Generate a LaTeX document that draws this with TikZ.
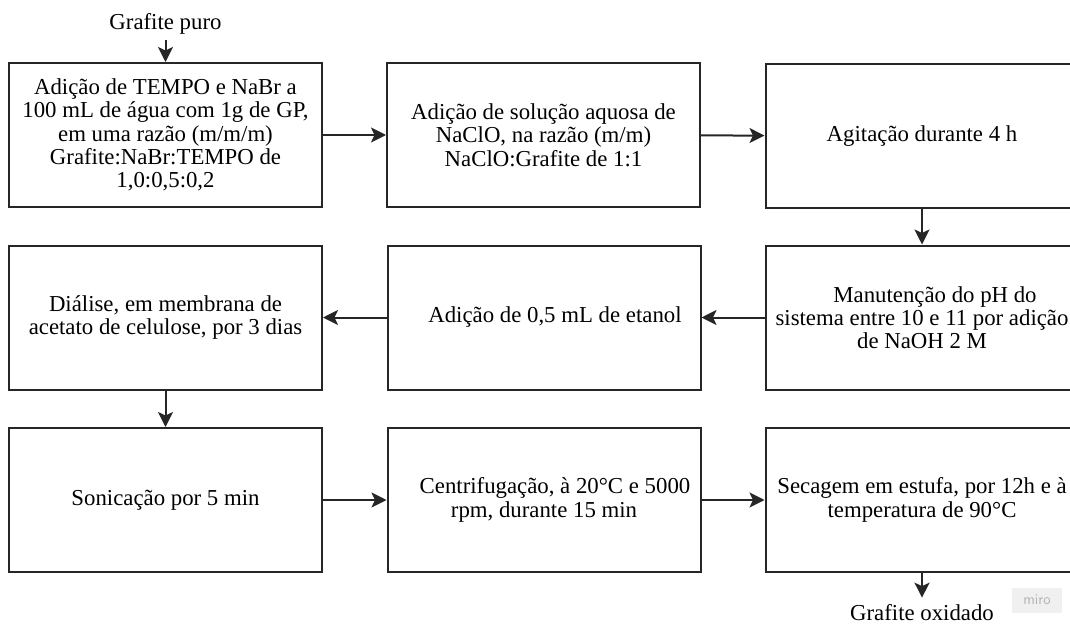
\documentclass[tikz,border=0pt]{standalone}
\usepackage{fontspec}
\setmainfont{Liberation Serif}
\usetikzlibrary{arrows.meta}

\begin{document}
\begin{tikzpicture}[
  x=1pt, y=-1pt, font=\fontsize{22.8}{23.3}\selectfont,
  box/.style={draw=black!85,line width=2pt,minimum width=313pt,minimum height=144pt,
              align=center,inner sep=2pt,text=black},
  flow/.style={-{Stealth[length=15pt,width=15pt,inset=3.5pt]},line width=2pt,black!85},
  ends/.style={inner sep=0pt,text=black},
  badge/.style={fill=black!6,text=black!30,font=\sffamily\fontsize{15}{15}\selectfont,
                minimum width=50pt,minimum height=25pt,inner sep=0pt}]

\useasboundingbox (0,0) rectangle (1070,626);

\node[ends] (puro) at (165.5,23.5) {Grafite puro};

\node[box] (s1) at (165.5,135) {Adição de TEMPO e NaBr a\\100 mL de água com 1g de GP,\\em uma razão (m/m/m)\\Grafite:NaBr:TEMPO de\\1,0:0,5:0,2};
\node[box] (s2) at (543.5,135) {Adição de solução aquosa de\\NaClO, na razão (m/m)\\NaClO:Grafite de 1:1};
\node[box] (s3) at (922,136) {Agitação durante 4 h};

\node[box] (s4) at (922,317.5) {\hspace*{26pt}Manutenção do pH do\\sistema entre 10 e 11 por adição\\de NaOH 2 M};
\node[box] (s5) at (544,317.5) {\hspace*{22pt}Adição de 0,5 mL de etanol};
\node[box] (s6) at (165.5,317.5) {Diálise, em membrana de\\acetato de celulose, por 3 dias};

\node[box] (s7) at (165.5,500) {Sonicação por 5 min};
\node[box] (s8) at (544,500) {\hspace*{22pt}Centrifugação, à 20°C e 5000\\rpm, durante 15 min};
\node[box] (s9) at (922,500) {Secagem em estufa, por 12h e à\\temperatura de 90°C};

\node[ends] (oxid) at (922,613) {Grafite oxidado};
\node[badge] (miro) at (1037,600) {miro};

\draw[flow,shorten <=6pt] (puro) -- (s1);
\draw[flow] (s1) -- (s2);
\draw[flow] (s2) -- (s3);
\draw[flow] (s3) -- (s4);
\draw[flow] (s4) -- (s5);
\draw[flow] (s5) -- (s6);
\draw[flow] (s6) -- (s7);
\draw[flow] (s7) -- (s8);
\draw[flow] (s8) -- (s9);
\draw[flow,shorten >=7pt] (s9) -- (oxid);
\end{tikzpicture}
\end{document}
